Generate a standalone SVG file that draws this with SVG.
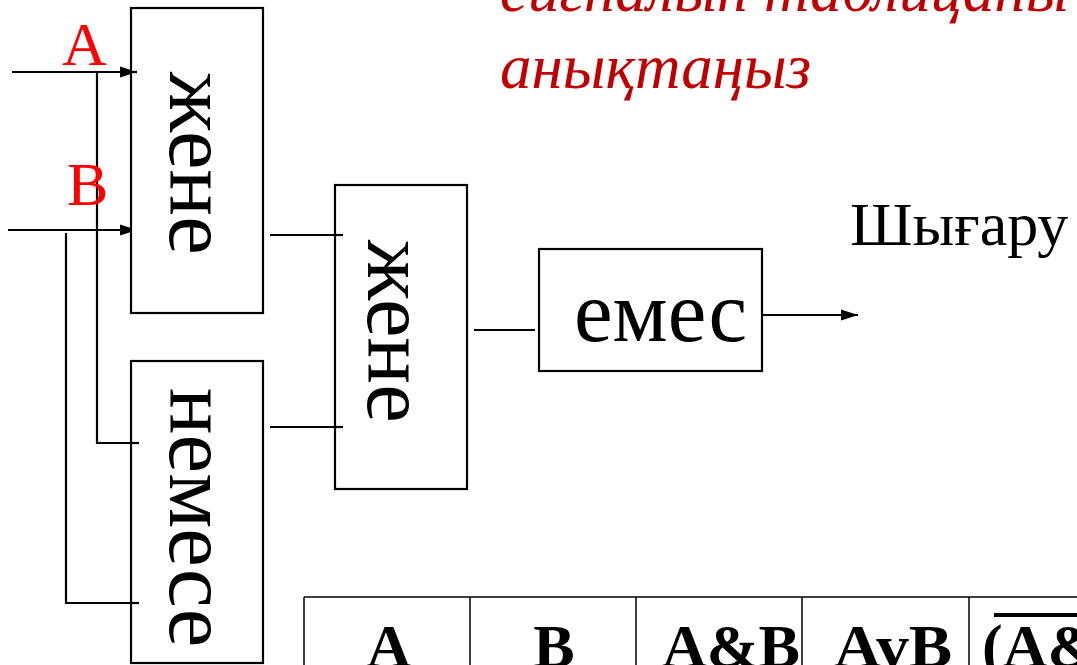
<svg xmlns="http://www.w3.org/2000/svg" width="1077" height="665" viewBox="0 0 1077 665">
<defs>
<marker id="arr" markerWidth="17" markerHeight="12" refX="17" refY="6" orient="auto" markerUnits="userSpaceOnUse">
<path d="M0,0.5 L17,6 L0,11.5 Z" fill="#000"/>
</marker>
<filter id="sh" x="-5%" y="-100%" width="110%" height="400%"><feGaussianBlur stdDeviation="1.5"/></filter>
<style>
.box{fill:#fff;stroke:#000;stroke-width:2.2}
.ln{fill:none;stroke:#000;stroke-width:2.2}
.gate{font-family:"Liberation Serif",serif;font-size:87px;fill:#000}
.red{font-family:"Liberation Serif",serif;font-size:62px;fill:#f00}
.title{font-family:"Liberation Serif",serif;font-style:italic;font-size:63px;fill:#c00000}
.hdr{font-family:"Liberation Serif",serif;font-weight:bold;font-size:62px;fill:#000}
.cell{fill:none;stroke:#000;stroke-width:1.5}
</style>
</defs>
<rect width="1077" height="665" fill="#fff"/>
<text class="title" x="500" y="11">сигналын таблицаны</text>
<text class="title" x="500" y="88">анықтаңыз</text>

<g id="connectors">
<line class="ln" x1="12" y1="72" x2="137" y2="72" marker-end="url(#arr)"/>
<line class="ln" x1="8" y1="230" x2="137" y2="230" marker-end="url(#arr)"/>
<polyline class="ln" points="97,72 97,443 139,443"/>
<polyline class="ln" points="66,233 66,603 139,603"/>
<line class="ln" x1="270" y1="235" x2="343" y2="235"/>
<line class="ln" x1="270" y1="427" x2="343" y2="427"/>
<line class="ln" x1="474" y1="330" x2="535" y2="330"/>
<line class="ln" x1="762" y1="315" x2="858" y2="315" marker-end="url(#arr)"/>
</g>

<g id="label-A"><text class="red" x="62" y="65">A</text></g>
<g id="label-B"><text class="red" x="67" y="205">B</text></g>

<g id="gate-and1">
<rect class="box" x="131" y="8" width="132" height="305"/>
<line class="ln" x1="131" y1="72" x2="137" y2="72"/>
<text class="gate" transform="translate(170,72) rotate(90)">жене</text>
</g>
<g id="gate-or">
<rect class="box" x="131" y="361" width="132" height="302"/>
<line class="ln" x1="131" y1="443" x2="139" y2="443"/>
<line class="ln" x1="131" y1="603" x2="139" y2="603"/>
<text class="gate" transform="translate(170,388) rotate(90)">немесе</text>
</g>
<g id="gate-and2">
<rect class="box" x="335" y="185" width="132" height="304"/>
<line class="ln" x1="335" y1="235" x2="343" y2="235"/>
<line class="ln" x1="335" y1="427" x2="343" y2="427"/>
<text class="gate" transform="translate(368,240) rotate(90)">жене</text>
</g>
<g id="gate-not">
<rect class="box" x="539" y="249" width="223" height="122"/>
<text class="gate" x="574" y="341">емес</text>
</g>
<g id="output-label">
<text class="gate" x="850" y="245" style="font-size:62px">Шығару</text>
</g>

<g id="table">
<line class="cell" x1="304" y1="597" x2="1077" y2="597"/>
<line class="cell" x1="304" y1="597" x2="304" y2="665"/>
<line class="cell" x1="470" y1="597" x2="470" y2="665"/>
<line class="cell" x1="636" y1="597" x2="636" y2="665"/>
<line class="cell" x1="802" y1="597" x2="802" y2="665"/>
<line class="cell" x1="969" y1="597" x2="969" y2="665"/>
<text class="hdr" x="389" y="667" text-anchor="middle">A</text>
<text class="hdr" x="554" y="667" text-anchor="middle">B</text>
<text class="hdr" x="731" y="667" text-anchor="middle" textLength="138" lengthAdjust="spacingAndGlyphs">A&amp;B</text>
<text class="hdr" x="893" y="667" text-anchor="middle" textLength="118" lengthAdjust="spacingAndGlyphs">AvB</text>
<line x1="994" y1="618" x2="1077" y2="618" stroke="#999" stroke-width="4" filter="url(#sh)"/>
<line x1="994" y1="615" x2="1077" y2="615" stroke="#000" stroke-width="4"/>
<text class="hdr" x="982" y="667">(A&amp;B)</text>
</g>
</svg>
